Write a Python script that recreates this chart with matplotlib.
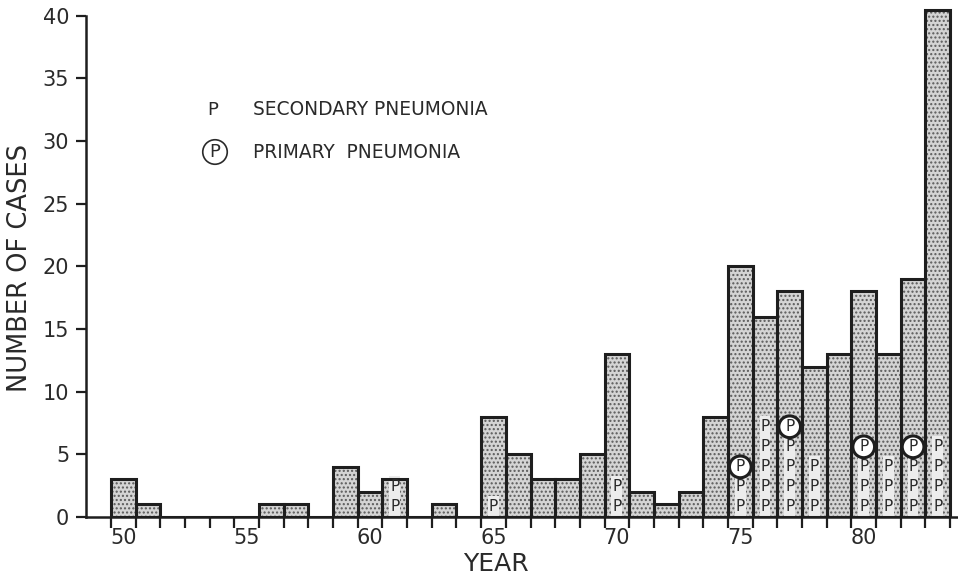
import matplotlib
matplotlib.use("Agg")
import matplotlib.pyplot as plt
from matplotlib.patches import Rectangle

# ---- data ----
years = list(range(1950, 1984))
cases = [3, 1, 0, 0, 0, 0, 1, 1, 0, 4,
         2, 3, 0, 1, 0, 8, 5, 3, 3, 5,
         13, 2, 1, 2, 8, 20, 16, 18, 12, 13,
         18, 13, 19, 40.5]
secondary_years = [1961, 1965, 1970, 1975, 1976, 1977, 1978, 1980, 1981, 1982, 1983]
secondary_counts = [2, 1, 2, 2, 5, 4, 3, 3, 3, 3, 4]
primary_years = [1975, 1977, 1980, 1982]
xtick_labels = ["50", "55", "60", "65", "70", "75", "80"]
ytick_values = [0, 5, 10, 15, 20, 25, 30, 35, 40]

W, H = 958, 579
fig = plt.figure(figsize=(W / 100, H / 100), dpi=100)
ax = fig.add_axes([86 / W, 1 - 517 / H, (957 - 86) / W, 517 / H])

TXT = "#2a2a2a"
yrs = [y - 1900 for y in years]

# stippled fill
ax.bar(yrs, cases, width=1.0, color="#d4d4d4", edgecolor="#5a5a5a",
       linewidth=0, hatch="....", zorder=2)
# outlines
ax.bar(yrs, cases, width=1.0, fill=False, edgecolor="#1e1e1e",
       linewidth=2.2, zorder=4)

row0, rowstep = 0.8, 1.6
for y, n in zip(secondary_years, secondary_counts):
    x = y - 1900
    top = row0 + rowstep * (n - 1) + 0.75
    ax.add_patch(Rectangle((x - 0.22, 0.1), 0.44, top, facecolor="#ececec",
                           edgecolor="none", zorder=3))
    for i in range(n):
        ax.text(x, row0 + rowstep * i, "P", ha="center", va="center",
                fontsize=11, color=TXT, zorder=5)
for y in primary_years:
    x = y - 1900
    n = secondary_counts[secondary_years.index(y)]
    ax.text(x, row0 + rowstep * n, "P", ha="center", va="center",
            fontsize=11, color=TXT, zorder=6,
            bbox=dict(boxstyle="circle,pad=0.22", facecolor="white",
                      edgecolor="#1e1e1e", linewidth=2.2))

ax.set_xlim(48.49, 83.78)
ax.set_ylim(0, 41.26)

for s in ["top", "right"]:
    ax.spines[s].set_visible(False)
ax.spines["left"].set_bounds(0, 40)
for s in ["left", "bottom"]:
    ax.spines[s].set_linewidth(1.8)
    ax.spines[s].set_color("#1e1e1e")

# x ticks at year boundaries, labels at bar centres
ax.set_xticks([x - 0.5 for x in range(50, 85)])
ax.set_xticklabels([])
ax.tick_params(axis="x", direction="out", length=8, width=1.6, color="#1e1e1e")
for lab in xtick_labels:
    ax.text(int(lab), -1.65, lab, ha="center", va="center", fontsize=15, color=TXT)

ax.set_yticks(ytick_values)
ax.set_yticklabels([str(v) for v in ytick_values], fontsize=15, color=TXT)
ax.tick_params(axis="y", direction="out", length=7, width=1.6, color="#1e1e1e", pad=5)

fig.text(20 / W, 1 - 268 / H, "NUMBER OF CASES", rotation=90, ha="center",
         va="center", fontsize=18.5, color=TXT)
fig.text(496 / W, 1 - 564 / H, "YEAR", ha="center", va="center",
         fontsize=18, color=TXT)

# legend
fig.text(213 / W, 1 - 110 / H, "P", ha="center", va="center", fontsize=13, color=TXT)
fig.text(253 / W, 1 - 110 / H, "SECONDARY PNEUMONIA", ha="left", va="center",
         fontsize=13.4, color=TXT)
fig.text(215 / W, 1 - 152 / H, "P", ha="center", va="center", fontsize=13, color=TXT,
         bbox=dict(boxstyle="circle,pad=0.18", facecolor="white",
                   edgecolor="#2a2a2a", linewidth=1.2))
fig.text(253 / W, 1 - 152 / H, "PRIMARY  PNEUMONIA", ha="left", va="center",
         fontsize=13.4, color=TXT)

fig.savefig("out.png", dpi=100)
